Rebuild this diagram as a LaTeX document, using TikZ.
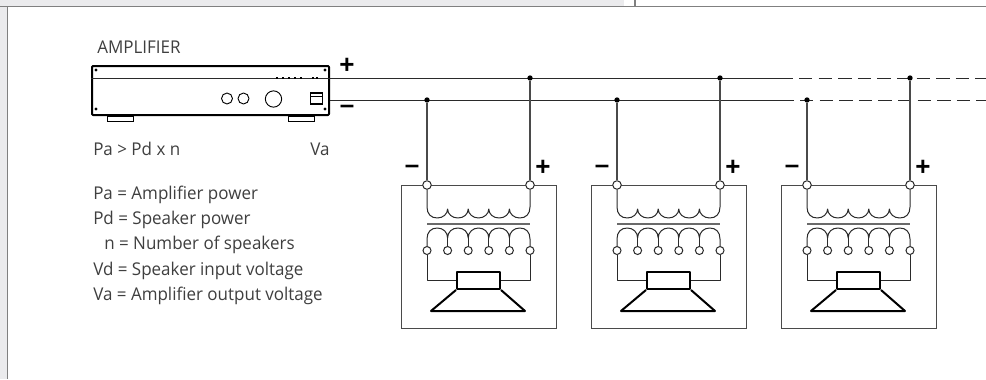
\documentclass[tikz,border=0pt]{standalone}
\usepackage{fontspec}
\setmainfont{Open Sans}[FakeStretch=0.965]
\newfontfamily\symfont{Liberation Sans}[BoldFont={Liberation Sans Bold}]
\definecolor{band}{HTML}{EBEBED}
\definecolor{rule}{HTML}{808080}
\definecolor{ink}{HTML}{2A2A2A}
\tikzset{
  wire/.style={line width=0.75pt,draw=ink,line join=round},
  feed/.style={line width=0.95pt,draw=ink!85},
  thick box/.style={line width=1.5pt,draw=black,line join=round},
  thin box/.style={line width=0.75pt,draw=ink},
  cab/.style={draw=ink!85,line width=0.8pt,rectangle,inner sep=0pt,minimum width=116.25pt,minimum height=107.25pt},
  junction/.style={circle,fill=black,inner sep=0pt,minimum size=4pt},
  term/.style={circle,draw=ink,fill=white,line width=0.75pt,inner sep=0pt,minimum size=6.4pt},
  tap/.style={circle,draw=ink,fill=white,line width=0.75pt,inner sep=0pt,minimum size=6pt},
  knob/.style={circle,draw=black,line width=0.7pt,inner sep=0pt},
  screw/.style={circle,fill=black,inner sep=0pt,minimum size=2.4pt},
  lbl/.style={anchor=base west,inner sep=0pt,text=ink!90,font=\fontsize{13.2pt}{15pt}\selectfont},
  sign/.style={inner sep=0pt,text=black,font=\symfont\bfseries\fontsize{19.5pt}{19.5pt}\selectfont},
}
\begin{document}
\begin{tikzpicture}[x=0.75pt,y=-0.75pt]
\useasboundingbox (0,0) rectangle (986,379);
\fill[white] (0,0) rectangle (986,379);
\fill[band] (0,0) rectangle (624,6);
\fill[band] (0,6) rectangle (7,379);
\draw[rule,line width=1.1pt] (0,6.5) -- (986,6.5);
\draw[rule,line width=1.1pt] (7.3,6.5) -- (7.3,379);
\draw[rule,line width=1.1pt] (635,0) -- (635,6.5);

% amplifier
\node[lbl] (title) at (97,53) {AMPLIFIER};
\node[rectangle,thick box,inner sep=0pt,minimum width=177.75pt,minimum height=36.75pt,rounded corners=0.8pt] (amp) at (210.5,90.5) {};
\node[draw=black,line width=0.6pt,inner sep=0pt,minimum width=19.5pt,minimum height=3.75pt,anchor=north] (footL) at (120,115.5) {};
\node[draw=black,line width=0.6pt,inner sep=0pt,minimum width=19.5pt,minimum height=3.75pt,anchor=north] (footR) at (301,115.5) {};
\node[screw] (s1) at (96,70) {};
\node[screw] (s2) at (325,70) {};
\node[screw] (s3) at (96,109) {};
\node[screw] (s4) at (325,109) {};
\node[knob,minimum size=8.2pt] (k1) at (227,98.5) {};
\node[knob,minimum size=8.2pt] (k2) at (243.5,98.5) {};
\node[knob,minimum size=12.2pt] (k3) at (273.5,99) {};
\node[draw=black,line width=0.9pt,inner sep=0pt,minimum width=9.4pt,minimum height=8.2pt] (sw) at (316.5,98.5) {};
\draw[black,line width=0.5pt] (311,96) -- (322,96);
\coordinate (ampP0) at (amp.west |- 0,78);
\coordinate (ampP) at (amp.east |- 0,78);
\coordinate (ampN) at (amp.east |- 0,100);
\draw[wire] (ampP0) -- (ampP);
\draw[black,line width=0.9pt,dash pattern=on 1.5pt off 3pt on 1.5pt off 3pt on 1.5pt off 3pt on 1.5pt off 3pt on 1.5pt off 7.5pt on 1.5pt off 1.5pt on 1.5pt off 40pt] (276,78) -- (318,78);
\node[sign] (ap) at (347,66) {+};
\node[sign] (am) at (347,109.5) {–};

% bus
\coordinate (endP) at (793,78);
\coordinate (endN) at (794,100);
\coordinate (farP) at (986,78);
\coordinate (farN) at (986,100);
\draw[wire] (ampP) -- (endP);
\draw[wire] (ampN) -- (endN);
\draw[wire,dash pattern=on 10.1pt off 4.6pt,dash phase=-4.5pt] (endP) -- (farP);
\draw[wire,dash pattern=on 10.1pt off 4.6pt,dash phase=-4.5pt] (endN) -- (farN);

\foreach \i/\xo in {a/0,b/190,c/380}{
  \begin{scope}[xshift=\xo*0.75pt]
    \node[cab,anchor=north west] (cab\i) at (401,185) {};
    \node[junction] (jn\i) at (427,100) {};
    \node[junction] (jp\i) at (530,78) {};
    \node[term] (tn\i) at (427,185) {};
    \node[term] (tp\i) at (530,185) {};
    \draw[feed] (jn\i) -- (tn\i);
    \draw[feed] (jp\i) -- (tp\i);
    \node[sign] at (412,169) {–};
    \node[sign] at (543,167.5) {+};
    % primary
    \draw[wire] (tn\i) -- (427,207)
      .. controls (427,214) and (431,218) .. (437.3,218) .. controls (443,218) and (447.6,214) .. (447.6,209)
      .. controls (447.6,214) and (452,218) .. (457.9,218) .. controls (464,218) and (468.2,214) .. (468.2,209)
      .. controls (468.2,214) and (473,218) .. (478.5,218) .. controls (484,218) and (488.8,214) .. (488.8,209)
      .. controls (488.8,214) and (493,218) .. (499.1,218) .. controls (505,218) and (509.4,214) .. (509.4,209)
      .. controls (509.4,214) and (514,218) .. (519.7,218) .. controls (526,218) and (530,214) .. (530,207)
      -- (tp\i);
    \draw[line width=0.9pt,draw=ink!70] (427,224) -- (530,224);
    % taps
    \node[tap] (t0\i) at (427,250.5) {};
    \node[tap] (t1\i) at (447.6,250.5) {};
    \node[tap] (t2\i) at (468.2,250.5) {};
    \node[tap] (t3\i) at (488.8,250.5) {};
    \node[tap] (t4\i) at (509.4,250.5) {};
    \node[tap] (t5\i) at (530,250.5) {};
    \draw[wire] (t0\i) -- (427,239)
      .. controls (427,232) and (431,228) .. (437.3,228) .. controls (443,228) and (447.6,232) .. (447.6,238)
      .. controls (447.6,232) and (452,228) .. (457.9,228) .. controls (464,228) and (468.2,232) .. (468.2,238)
      .. controls (468.2,232) and (473,228) .. (478.5,228) .. controls (484,228) and (488.8,232) .. (488.8,238)
      .. controls (488.8,232) and (493,228) .. (499.1,228) .. controls (505,228) and (509.4,232) .. (509.4,238)
      .. controls (509.4,232) and (514,228) .. (519.7,228) .. controls (526,228) and (530,232) .. (530,239)
      -- (t5\i);
    \draw[wire] (t1\i) -- (447.6,238);
    \draw[wire] (t2\i) -- (468.2,238);
    \draw[wire] (t3\i) -- (488.8,238);
    \draw[wire] (t4\i) -- (509.4,238);
    % speaker
    \node[thick box,rectangle,inner sep=0pt,minimum width=32.25pt,minimum height=12.75pt] (mag\i) at (478.5,280.5) {};
    \draw[wire] (t0\i) |- (mag\i.west);
    \draw[wire] (t5\i) |- (mag\i.east);
    \draw[thick box] (mag\i.south west) -- (431,311) -- (525,311) -- (mag\i.south east);
  \end{scope}
}

% texts
\node[lbl] (f1) at (93,155) {Pa > Pd x n};
\node[lbl] (f2) at (310,155) {Va};
\node[lbl] (l1) at (93,199) {Pa = Amplifier power};
\node[lbl] (l2) at (93,224) {Pd = Speaker power};
\node[lbl] (l3) at (104,249.5) {n = Number of speakers};
\node[lbl] (l4) at (93,275.5) {Vd = Speaker input voltage};
\node[lbl] (l5) at (93,300.5) {Va = Amplifier output voltage};
\end{tikzpicture}
\end{document}
